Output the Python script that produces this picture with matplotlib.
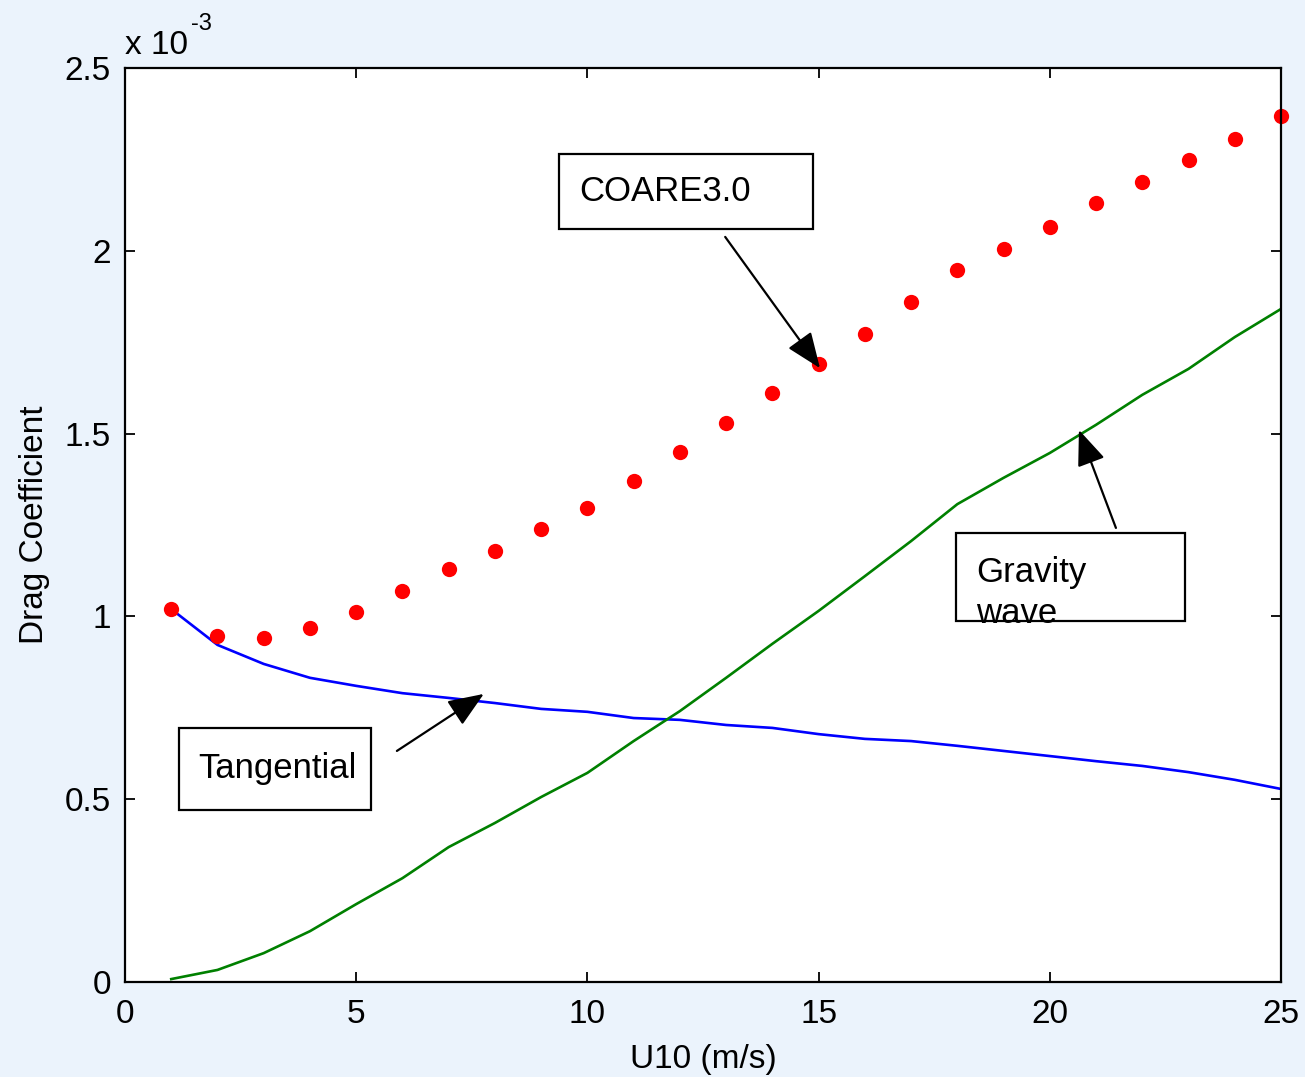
import matplotlib.pyplot as plt
from matplotlib.patches import Rectangle
from matplotlib.ticker import FuncFormatter

plt.rcParams['font.family'] = ['Liberation Sans', 'DejaVu Sans']

# wind speed (m/s)
u10 = list(range(1, 26))

# drag coefficients (x 1e-3)
coare = [1.020, 0.946, 0.941, 0.968, 1.012, 1.069, 1.130, 1.179, 1.239, 1.297,
         1.370, 1.450, 1.529, 1.611, 1.690, 1.772, 1.860, 1.947, 2.005, 2.065,
         2.131, 2.188, 2.248, 2.306, 2.369]
tangential = [1.020, 0.922, 0.870, 0.832, 0.810, 0.790, 0.777, 0.763, 0.747, 0.739,
              0.722, 0.717, 0.703, 0.695, 0.678, 0.665, 0.659, 0.646, 0.632, 0.618,
              0.604, 0.591, 0.574, 0.553, 0.528]
gravity = [0.008, 0.033, 0.079, 0.139, 0.213, 0.284, 0.369, 0.435, 0.506, 0.572,
           0.659, 0.741, 0.832, 0.925, 1.015, 1.110, 1.206, 1.307, 1.379, 1.447,
           1.524, 1.606, 1.677, 1.764, 1.841]

s = 1e-3
bg = '#ebf3fc'

fig = plt.figure(figsize=(13.05, 10.77), dpi=100, facecolor=bg)
ax = fig.add_axes([125 / 1305, 1 - 982 / 1077, 1156 / 1305, 914 / 1077])
ax.set_facecolor('white')

ax.plot(u10, [v * s for v in tangential], color='#0000ff', lw=1.9)
ax.plot(u10, [v * s for v in gravity], color='#008000', lw=1.9)
ax.plot(u10, [v * s for v in coare], 'o', color='#ff0000', ms=11, mec='none', clip_on=False)

ax.set_xlim(0, 25)
ax.set_ylim(0, 2.5e-3)
ax.set_xticks([0, 5, 10, 15, 20, 25])
ax.set_yticks([0, 0.5e-3, 1e-3, 1.5e-3, 2e-3, 2.5e-3])
ax.yaxis.set_major_formatter(FuncFormatter(lambda v, p: '%g' % round(v / s, 3)))
ax.tick_params(direction='in', length=7, width=1.3, labelsize=24,
               top=True, right=True)
ax.tick_params(axis='x', pad=12)
ax.tick_params(axis='y', pad=10)
for sp in ax.spines.values():
    sp.set_linewidth(1.6)

ax.set_xlabel('U10 (m/s)', fontsize=24, labelpad=10)
ax.set_ylabel('Drag Coefficient', fontsize=24, labelpad=11)

ax.text(0, 1.008, 'x 10', transform=ax.transAxes, fontsize=24, ha='left', va='bottom')
ax.text(0.057, 1.036, '-3', transform=ax.transAxes, fontsize=17, ha='left', va='bottom')

def box(x0, x1, y0, y1):
    ax.add_patch(Rectangle((x0, y0 * s), x1 - x0, (y1 - y0) * s, fill=False,
                           ec='black', lw=1.6, zorder=5))

def arrow(xt, yt, xh, yh):
    ax.annotate('', xy=(xh, yh * s), xytext=(xt, yt * s),
                arrowprops=dict(arrowstyle='-|>,head_length=1.0,head_width=0.4',
                                color='black', lw=1.6, mutation_scale=22,
                                shrinkA=0, shrinkB=0), zorder=6)

box(9.386, 14.88, 2.060, 2.265)
ax.text(9.82, 2.161 * s, 'COARE3.0', fontsize=25, va='center', ha='left', zorder=6)
arrow(12.98, 2.038, 15.03, 1.679)

box(1.168, 5.32, 0.470, 0.695)
ax.text(1.579, 0.583 * s, 'Tangential', fontsize=25, va='center', ha='left', zorder=6)
arrow(5.88, 0.632, 7.76, 0.788)

box(17.97, 22.92, 0.987, 1.228)
ax.text(18.40, 1.121 * s, 'Gravity', fontsize=25, va='center', ha='left', zorder=6)
ax.text(18.40, 1.007 * s, 'wave', fontsize=25, va='center', ha='left', zorder=6)
arrow(21.43, 1.242, 20.63, 1.510)

fig.savefig('out.png', dpi=100, facecolor=bg)
